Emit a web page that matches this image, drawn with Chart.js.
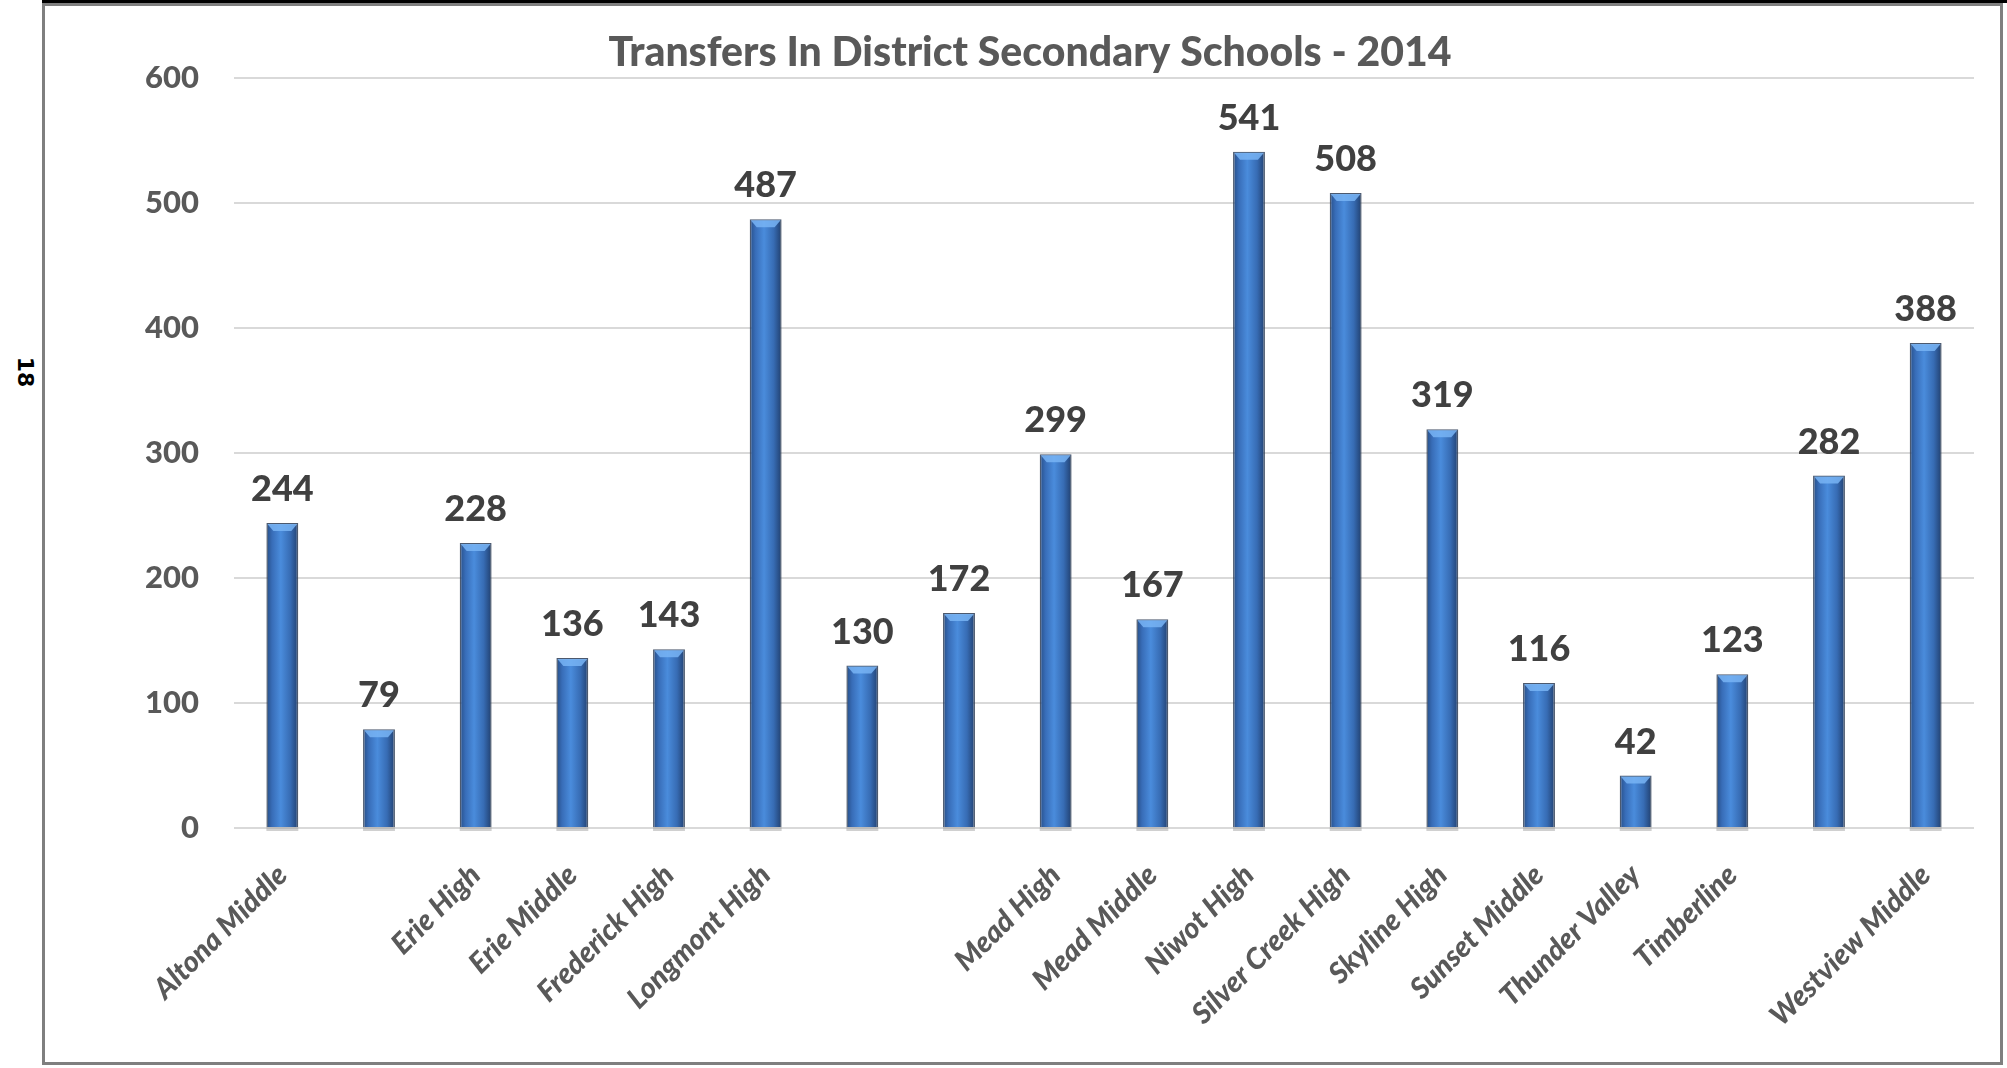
<!DOCTYPE html>
<html>
<head>
<meta charset="utf-8">
<title>Transfers In District Secondary Schools - 2014</title>
<script src="https://cdn.jsdelivr.net/npm/chart.js@4.4.1/dist/chart.umd.min.js"></script>
<style>
  html, body { margin: 0; padding: 0; background: #fff; }
  body { width: 2007px; height: 1068px; position: relative; overflow: hidden; }
  #topbar { position: absolute; left: 42px; top: 0; width: 1965px; height: 3px; background: #000; }
  #frame { position: absolute; left: 42px; top: 3px; width: 1961px; height: 1062px; border: 3px solid #7f7f7f; box-sizing: border-box; }
  #pagenum { position: absolute; left: 25px; top: 372px; transform: translate(-50%, -50%) rotate(90deg);
             font: bold 22px "DejaVu Sans", sans-serif; color: #000; }
  #wrap { position: absolute; left: 0; top: 0; width: 2007px; height: 1068px; }
</style>
</head>
<body>
<div id="topbar"></div>
<div id="frame"></div>
<div id="pagenum">18</div>
<div id="wrap"><canvas id="transfersChart"></canvas></div>

<script>
// ---- data ----
const schools = [
  "Altona Middle", "", "Erie High", "Erie Middle", "Frederick High", "Longmont High",
  "", "", "Mead High", "Mead Middle", "Niwot High", "Silver Creek High",
  "Skyline High", "Sunset Middle", "Thunder Valley", "Timberline", "", "Westview Middle"
];
const transfers = [244, 79, 228, 136, 143, 487, 130, 172, 299, 167, 541, 508, 319, 116, 42, 123, 282, 388];
const yTicks = [0, 100, 200, 300, 400, 500, 600];

const GREY = "#595959";

// cylinder-ish gradient across each bar
function barFill(c) {
  const chart = c.chart;
  const xs = chart.scales.x;
  if (!xs || c.dataIndex === undefined) return "#3a78c8";
  const cx = xs.getPixelForValue(c.dataIndex);
  if (!isFinite(cx)) return "#3a78c8";
  const half = 16;
  const g = chart.ctx.createLinearGradient(cx - half, 0, cx + half, 0);
  g.addColorStop(0, "#264d85");
  g.addColorStop(0.18, "#386db8");
  g.addColorStop(0.45, "#4a8cdc");
  g.addColorStop(0.75, "#376cb4");
  g.addColorStop(1, "#213f6e");
  return g;
}

// light bevel on top of bars, soft base shadow, value labels
const barDecor = {
  id: "barDecor",
  beforeDatasetsDraw(chart) {
    const ctx = chart.ctx;
    const meta = chart.getDatasetMeta(0);
    ctx.save();
    ctx.fillStyle = "rgba(150,150,150,0.45)";
    meta.data.forEach((bar) => {
      const half = bar.width / 2;
      ctx.fillRect(bar.x - half, bar.base, bar.width, 4);
    });
    ctx.restore();
  },
  afterDatasetsDraw(chart) {
    const ctx = chart.ctx;
    const meta = chart.getDatasetMeta(0);
    ctx.save();
    meta.data.forEach((bar) => {
      const half = bar.width / 2;
      ctx.fillStyle = "rgba(120,180,245,0.85)";
      ctx.beginPath();
      ctx.moveTo(bar.x - half + 1, bar.y + 1);
      ctx.lineTo(bar.x + half - 1, bar.y + 1);
      ctx.lineTo(bar.x + half - 7, bar.y + 8);
      ctx.lineTo(bar.x - half + 7, bar.y + 8);
      ctx.closePath();
      ctx.fill();
    });
    ctx.font = "900 36px Lato";
    ctx.fillStyle = "#404040";
    ctx.textAlign = "center";
    ctx.textBaseline = "alphabetic";
    meta.data.forEach((bar, i) => {
      ctx.fillText(transfers[i], bar.x, bar.y - 22);
    });
    ctx.restore();
  }
};

document.addEventListener("DOMContentLoaded", () => {
  const el = document.getElementById("transfersChart");

  new Chart(el, {
    type: "bar",
    data: {
      labels: schools,
      datasets: [
        {
          label: "Transfers",
          data: transfers,
          backgroundColor: barFill,
          borderColor: "rgba(45,60,85,0.85)",
          borderWidth: 1.5,
          barPercentage: 0.33,
          categoryPercentage: 1,
        },
      ],
    },
    options: {
      responsive: true,
      maintainAspectRatio: false,
      animation: false,
      layout: { padding: { left: 86, right: 33, top: 0, bottom: 0 } },
      scales: {
        x: {
          grid: { display: false, drawTicks: false },
          border: { display: false },
          ticks: {
            autoSkip: false,
            minRotation: 45,
            maxRotation: 45,
            padding: 30,
            color: GREY,
            font: { family: "Lato", size: 29, weight: "900", style: "italic" },
          },
          afterFit(s) { s.height = 240; },
        },
        y: {
          min: 0,
          max: 600,
          afterBuildTicks(s) { s.ticks = yTicks.map((v) => ({ value: v })); },
          ticks: {
            padding: 35,
            color: GREY,
            font: { family: "Lato", size: 31, weight: "900" },
          },
          grid: { color: "#d9d9d9", lineWidth: 2, drawTicks: false },
          border: { display: false },
          afterFit(s) { s.width = 148; },
        },
      },
      plugins: {
        legend: { display: false },
        tooltip: { enabled: false },
        title: {
          display: true,
          text: "Transfers In District Secondary Schools - 2014",
          color: GREY,
          font: { family: "Lato", size: 41, weight: "900" },
          padding: { top: 28, bottom: 0.8 },
        },
      },
    },
    plugins: [barDecor],
  });
});
</script>
</body>
</html>
